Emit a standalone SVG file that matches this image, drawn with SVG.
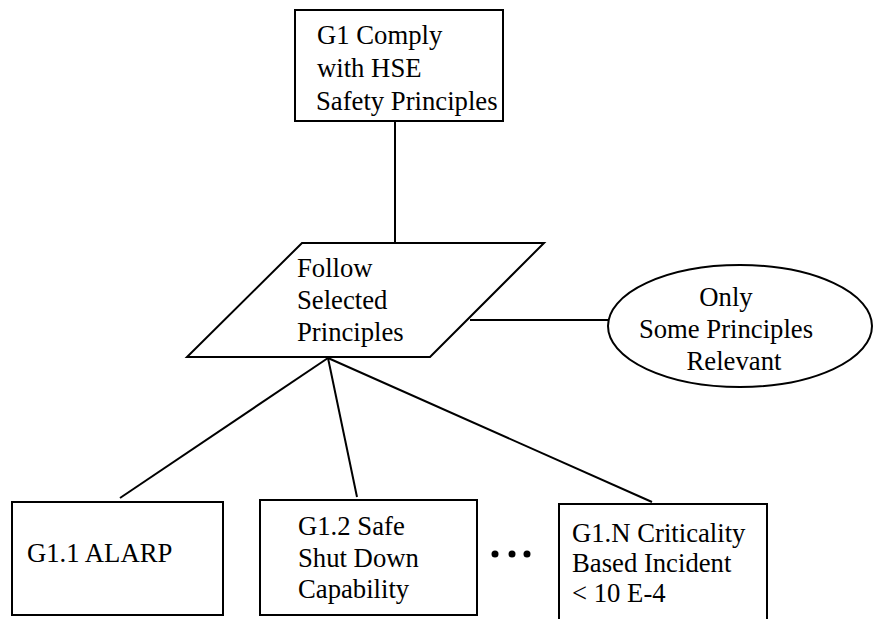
<svg xmlns="http://www.w3.org/2000/svg" width="874" height="619" viewBox="0 0 874 619">
  <style>
    .shape { fill: #ffffff; stroke: #000000; stroke-width: 2; }
    .edge { fill: none; stroke: #000000; stroke-width: 2; }
    text { font-family: "Liberation Serif", "Times New Roman", serif; font-size: 26.7px; fill: #000000; }
    .mid { text-anchor: middle; }
  </style>
  <rect width="874" height="619" fill="#ffffff"/>

  <!-- connectors -->
  <g id="connectors">
    <line class="edge" x1="395" y1="121" x2="395" y2="243"/>
    <line class="edge" x1="470" y1="320" x2="608" y2="320"/>
    <line class="edge" x1="328" y1="358" x2="120" y2="498"/>
    <line class="edge" x1="328" y1="358" x2="357" y2="497"/>
    <line class="edge" x1="328" y1="358" x2="652" y2="502"/>
  </g>

  <!-- top goal -->
  <g id="G1">
    <rect class="shape" x="295" y="10" width="208" height="111"/>
    <text x="317" y="44">G1 Comply</text>
    <text x="317" y="77">with HSE</text>
    <text x="316" y="110">Safety Principles</text>
  </g>

  <!-- strategy -->
  <g id="S1">
    <polygon class="shape" points="302,243 544,243 430,357 187,357"/>
    <text x="297" y="277">Follow</text>
    <text x="297" y="309">Selected</text>
    <text x="297" y="341">Principles</text>
  </g>

  <!-- context -->
  <g id="C1">
    <ellipse class="shape" cx="740" cy="326" rx="132" ry="61"/>
    <text class="mid" x="726" y="306">Only</text>
    <text class="mid" x="726" y="338">Some Principles</text>
    <text class="mid" x="734" y="370">Relevant</text>
  </g>

  <!-- sub-goals -->
  <g id="G1.1">
    <rect class="shape" x="12" y="502" width="211" height="113"/>
    <text x="27" y="562">G1.1 ALARP</text>
  </g>

  <g id="G1.2">
    <rect class="shape" x="260" y="500" width="217" height="115"/>
    <text x="298" y="535">G1.2 Safe</text>
    <text x="298" y="567">Shut Down</text>
    <text x="298" y="598">Capability</text>
  </g>

  <g id="ellipsis">
    <circle cx="495" cy="554" r="3.5" fill="#000000"/>
    <circle cx="512" cy="554" r="3.5" fill="#000000"/>
    <circle cx="527" cy="554" r="3.5" fill="#000000"/>
  </g>

  <g id="G1.N">
    <rect class="shape" x="559" y="504" width="208" height="130"/>
    <text x="572" y="542">G1.N Criticality</text>
    <text x="572" y="572">Based Incident</text>
    <text x="572" y="602">&lt; 10 E-4</text>
  </g>
</svg>
